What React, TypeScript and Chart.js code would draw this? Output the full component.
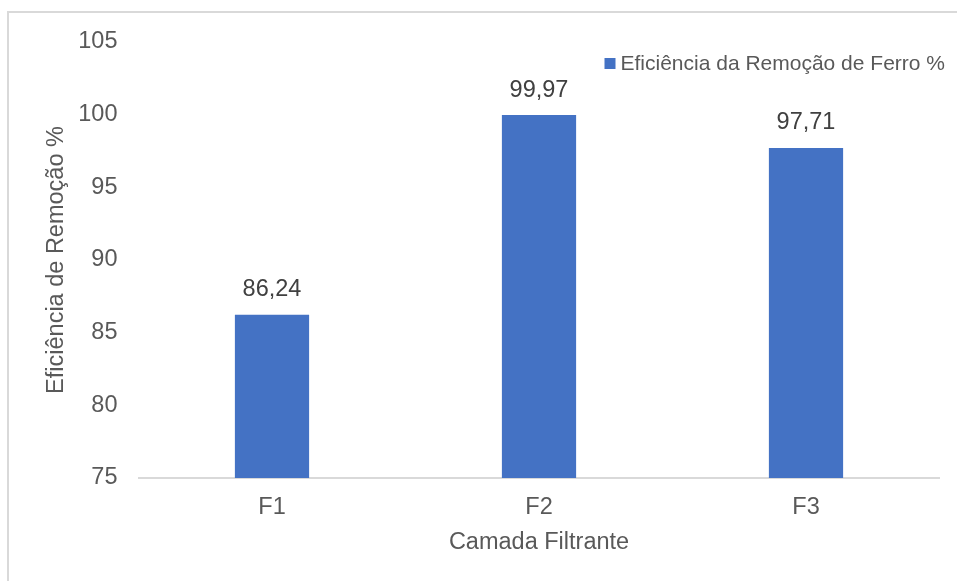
import React, { useEffect, useRef } from "react";
import { Chart, registerables } from "chart.js";

Chart.register(...registerables);

const categories = ["F1", "F2", "F3"];
const seriesLabel = "Eficiência da Remoção de Ferro %";
const values = [86.24, 99.97, 97.71];
const yMin = 75;
const yMax = 105;
const yStep = 5;
const xTitle = "Camada Filtrante";
const yTitle = "Eficiência de Remoção %";

const FONT = '"Liberation Sans", Arial, sans-serif';
const BAR_COLOR = "#4472C4";
const FS = 23.5;

const dataLabelPlugin = {
  id: "dataLabels",
  afterDatasetsDraw(chart: any) {
    const ctx = chart.ctx;
    ctx.save();
    ctx.font = `${FS}px ${FONT}`;
    ctx.fillStyle = "#404040";
    ctx.textAlign = "center";
    ctx.textBaseline = "middle";
    chart.data.datasets.forEach((ds: any, di: number) => {
      const meta = chart.getDatasetMeta(di);
      meta.data.forEach((el: any, i: number) => {
        const v = ds.data[i] as number;
        ctx.fillText(v.toFixed(2).replace(".", ","), el.x, el.y - 25);
      });
    });
    ctx.restore();
  },
};

const legendPlugin = {
  id: "customLegend",
  afterDraw(chart: any) {
    const ctx = chart.ctx;
    const area = chart.chartArea;
    const ds = chart.data.datasets[0];
    const x = area.right - 335;
    const y = area.top + 16;
    ctx.save();
    ctx.fillStyle = ds.backgroundColor;
    ctx.fillRect(x, y, 11, 11);
    ctx.font = `21px ${FONT}`;
    ctx.fillStyle = "#595959";
    ctx.textAlign = "left";
    ctx.textBaseline = "middle";
    ctx.fillText(ds.label, x + 16, y + 6);
    ctx.restore();
  },
};

export default function App() {
  const ref = useRef<HTMLCanvasElement | null>(null);

  useEffect(() => {
    if (!ref.current) return;
    const chart = new Chart(ref.current, {
      type: "bar",
      data: {
        labels: categories,
        datasets: [
          {
            label: seriesLabel,
            data: values,
            backgroundColor: BAR_COLOR,
            categoryPercentage: 1,
            barPercentage: 0.278,
          },
        ],
      },
      options: {
        responsive: false,
        animation: false,
        layout: { padding: { left: 42, right: 17.5, top: 42, bottom: 0 } },
        plugins: {
          legend: { display: false },
          tooltip: { enabled: false },
        },
        scales: {
          x: {
            grid: { display: false, drawTicks: false },
            border: { display: true, color: "#d9d9d9", width: 2 },
            ticks: { color: "#595959", font: { family: FONT, size: FS }, padding: 15 },
            title: {
              display: true,
              text: xTitle,
              color: "#595959",
              font: { family: FONT, size: FS },
              padding: { top: 0, bottom: 24 },
            },
            afterFit(scale: any) {
              scale.height = 103;
            },
          },
          y: {
            min: yMin,
            max: yMax,
            grid: { display: false, drawTicks: false },
            border: { display: false },
            ticks: {
              stepSize: yStep,
              color: "#595959",
              font: { family: FONT, size: FS },
              padding: 21,
            },
            title: {
              display: true,
              text: yTitle,
              color: "#595959",
              font: { family: FONT, size: FS },
              padding: { top: 0, bottom: 0 },
            },
            afterFit(scale: any) {
              scale.width = 96.5;
            },
          },
        },
      },
      plugins: [dataLabelPlugin, legendPlugin],
    });
    return () => chart.destroy();
  }, []);

  return (
    <div style={{ position: "fixed", left: 0, top: 0, width: 957, height: 581, overflow: "hidden", background: "#fff" }}>
      <div
        style={{
          position: "absolute",
          left: 7,
          top: 11,
          width: 1200,
          height: 1000,
          border: "2px solid #d9d9d9",
        }}
      />
      <canvas
        ref={ref}
        width={957}
        height={581}
        style={{ position: "absolute", left: 0, top: 0, display: "block", width: 957, height: 581 }}
      />
    </div>
  );
}
